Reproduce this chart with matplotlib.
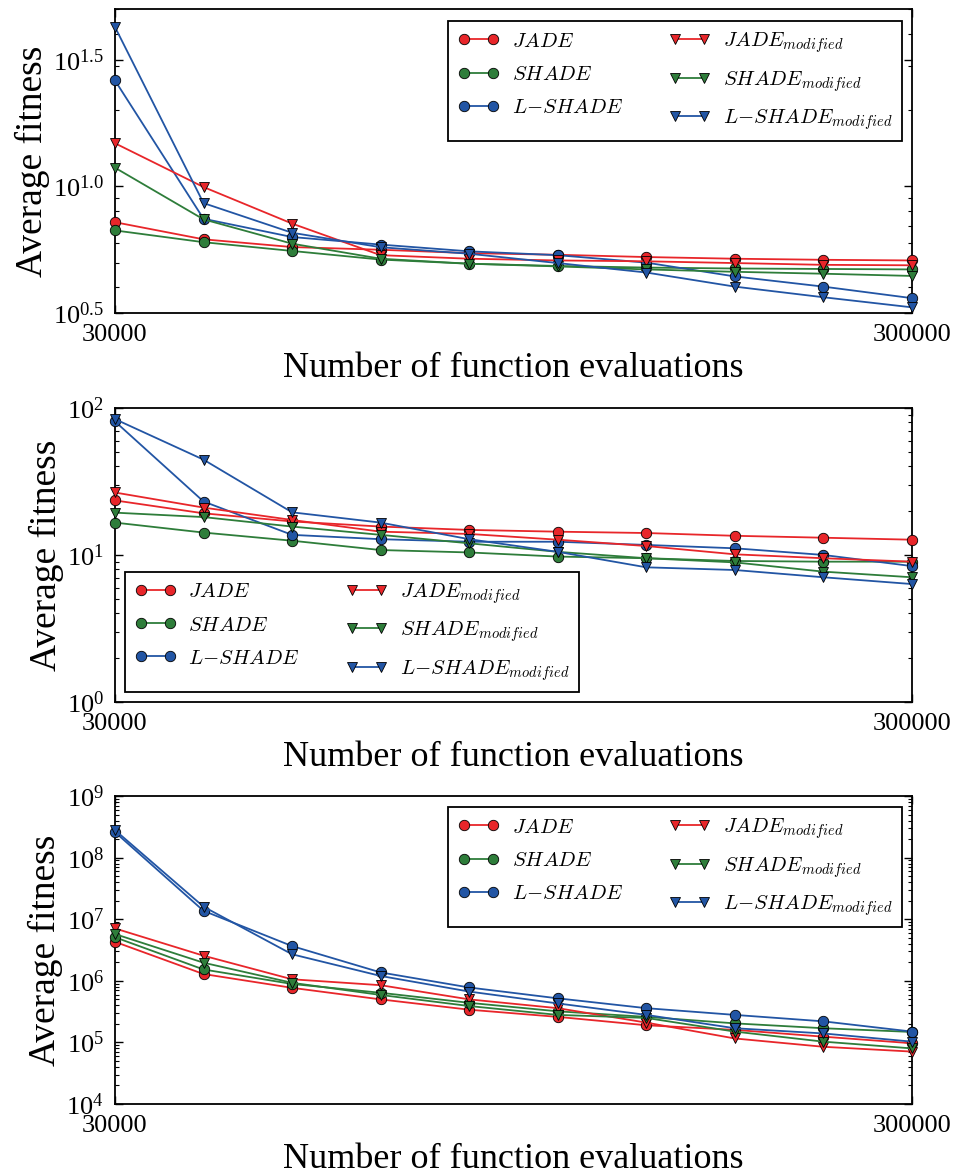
import matplotlib
matplotlib.use("Agg")
import matplotlib.pyplot as plt
from matplotlib.ticker import FixedLocator, FixedFormatter, LogLocator, NullFormatter

plt.rcParams["font.family"] = ["Liberation Serif", "DejaVu Serif"]
plt.rcParams["mathtext.fontset"] = "stix"

evals = [30000, 60000, 90000, 120000, 150000, 180000, 210000, 240000, 270000, 300000]
names = ["JADE", "SHADE", "L{-}SHADE"]

# panel 1
p1_jade = [7.22, 6.18, 5.76, 5.62, 5.45, 5.37, 5.26, 5.18, 5.13, 5.10]
p1_shade = [6.70, 6.02, 5.56, 5.14, 4.95, 4.85, 4.78, 4.74, 4.72, 4.70]
p1_lshade = [26.2, 7.45, 6.31, 5.89, 5.54, 5.35, 5.00, 4.41, 4.02, 3.62]
p1_jade_mod = [14.8, 9.94, 7.13, 5.35, 5.18, 5.10, 5.06, 4.98, 4.90, 4.88]
p1_shade_mod = [11.85, 7.41, 5.94, 5.18, 4.95, 4.83, 4.70, 4.60, 4.52, 4.43]
p1_lshade_mod = [42.6, 8.59, 6.56, 5.75, 5.42, 4.98, 4.57, 4.02, 3.65, 3.33]

# panel 2
p2_jade = [23.5, 19.2, 16.9, 15.6, 14.8, 14.4, 14.1, 13.5, 13.1, 12.7]
p2_shade = [16.6, 14.2, 12.5, 10.8, 10.4, 9.75, 9.5, 9.1, 9.0, 9.0]
p2_lshade = [81.0, 23.1, 13.7, 12.8, 12.3, 12.3, 11.7, 11.1, 10.0, 8.4]
p2_jade_mod = [26.6, 21.0, 17.3, 14.4, 13.9, 12.7, 11.5, 10.1, 9.5, 9.0]
p2_shade_mod = [19.4, 18.1, 15.6, 13.7, 12.0, 10.5, 9.5, 8.9, 7.7, 7.05]
p2_lshade_mod = [84.0, 44.5, 19.5, 16.6, 12.8, 10.5, 8.24, 7.9, 7.05, 6.34]

# panel 3
p3_jade = [4.3e6, 1.29e6, 7.7e5, 5.0e5, 3.4e5, 2.6e5, 1.9e5, 1.6e5, 1.24e5, 9.7e4]
p3_shade = [5.1e6, 1.53e6, 8.9e5, 6.4e5, 4.4e5, 3.2e5, 2.6e5, 2.04e5, 1.7e5, 1.48e5]
p3_lshade = [2.6e8, 1.37e7, 3.67e6, 1.37e6, 7.8e5, 5.2e5, 3.6e5, 2.8e5, 2.2e5, 1.5e5]
p3_jade_mod = [7.1e6, 2.56e6, 1.06e6, 8.5e5, 5.0e5, 3.6e5, 2.1e5, 1.16e5, 8.5e4, 7.1e4]
p3_shade_mod = [5.75e6, 1.97e6, 9.3e5, 5.9e5, 3.9e5, 2.8e5, 2.5e5, 1.5e5, 1.03e5, 8.0e4]
p3_lshade_mod = [2.8e8, 1.6e7, 2.7e6, 1.2e6, 6.7e5, 4.3e5, 2.8e5, 1.7e5, 1.4e5, 1.03e5]

colors = ["#e8262a", "#2e7d3a", "#2255a4"]

panels = [
    dict(series=[p1_jade, p1_shade, p1_lshade, p1_jade_mod, p1_shade_mod, p1_lshade_mod],
         ylim=(10 ** 0.5, 10 ** 1.70),
         yticks=[10 ** 0.5, 10 ** 1.0, 10 ** 1.5],
         ylabels=[r"$\mathdefault{10^{0.5}}$", r"$\mathdefault{10^{1.0}}$", r"$\mathdefault{10^{1.5}}$"],
         rect=[0.119, 0.7336, 0.825, 0.2587],
         leg_anchor=(0.9875, 0.96), leg_loc="upper right"),
    dict(series=[p2_jade, p2_shade, p2_lshade, p2_jade_mod, p2_shade_mod, p2_lshade_mod],
         ylim=(1, 100),
         yticks=[1, 10, 100],
         ylabels=[r"$\mathdefault{10^{0}}$", r"$\mathdefault{10^{1}}$", r"$\mathdefault{10^{2}}$"],
         rect=[0.119, 0.4026, 0.825, 0.2502],
         leg_anchor=(0.0125, 0.034), leg_loc="lower left"),
    dict(series=[p3_jade, p3_shade, p3_lshade, p3_jade_mod, p3_shade_mod, p3_lshade_mod],
         ylim=(1e4, 1e9),
         yticks=[1e4, 1e5, 1e6, 1e7, 1e8, 1e9],
         ylabels=[r"$\mathdefault{10^{%d}}$" % k for k in range(4, 10)],
         rect=[0.119, 0.0604, 0.825, 0.2621],
         leg_anchor=(0.9875, 0.964), leg_loc="upper right"),
]

fig = plt.figure(figsize=(9.66, 11.75), dpi=100)

for p in panels:
    ax = fig.add_axes(p["rect"])
    labels = [r"$%s$" % n for n in names] + [r"$%s_{modified}$" % n for n in names]
    for i, (vals, lab) in enumerate(zip(p["series"], labels)):
        marker = "o" if i < 3 else "v"
        ax.plot(evals, vals, marker=marker, color=colors[i % 3], lw=1.3,
                markersize=7.5, markeredgecolor="black", markeredgewidth=0.6,
                label=lab, clip_on=False, zorder=3)
    ax.set_yscale("log")
    ax.set_xlim(30000, 300000)
    ax.set_ylim(*p["ylim"])
    ax.set_xticks([30000, 300000])
    ax.set_xticklabels(["30000", "300000"])
    ax.yaxis.set_major_locator(FixedLocator(p["yticks"]))
    ax.yaxis.set_major_formatter(FixedFormatter(p["ylabels"]))
    ax.yaxis.set_minor_locator(LogLocator(base=10, subs=range(2, 10)))
    ax.yaxis.set_minor_formatter(NullFormatter())
    ax.tick_params(which="both", direction="in", top=True, right=True, labelsize=19)
    ax.tick_params(which="major", length=6, width=1.0, pad=8)
    ax.tick_params(which="minor", length=3, width=0.8)
    for s in ax.spines.values():
        s.set_linewidth(1.3)
    ax.set_xlabel("Number of function evaluations", fontsize=26, labelpad=4)
    ax.set_ylabel("Average fitness", fontsize=27, labelpad=2)
    leg = ax.legend(loc=p["leg_loc"], bbox_to_anchor=p["leg_anchor"], ncol=2, numpoints=2,
                    fancybox=False, framealpha=1, edgecolor="black", handlelength=2.0,
                    handletextpad=0.6, columnspacing=2.2, labelspacing=0.65,
                    borderpad=0.45, borderaxespad=0,
                    prop={"size": 15, "math_fontfamily": "cm"})
    leg.get_frame().set_linewidth(1.3)

fig.savefig("out.png", dpi=100)
